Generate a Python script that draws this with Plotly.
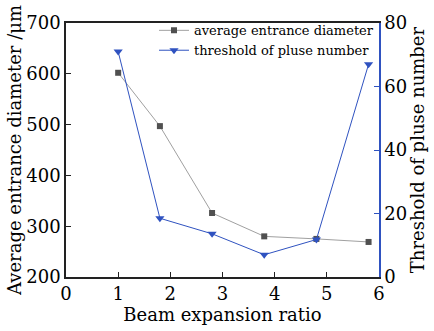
import plotly.graph_objects as go

x_vals = [1.0, 1.8, 2.8, 3.8, 4.8, 5.8]
diameter = [602, 497, 326, 280, 275, 269]
threshold = [71, 18.5, 13.6, 7, 11.8, 67]

FONT = "DejaVu Serif"
BLUE = "#2f52c0"
GRAY_LINE = "#a0a0a0"
GRAY_MARK = "#505050"

fig = go.Figure()
fig.add_trace(go.Scatter(
    x=x_vals, y=diameter, name="average entrance diameter",
    mode="lines+markers",
    line=dict(color=GRAY_LINE, width=1),
    marker=dict(symbol="square", size=6, color=GRAY_MARK),
    yaxis="y"))
fig.add_trace(go.Scatter(
    x=x_vals, y=threshold, name="threshold of pluse number",
    mode="lines+markers",
    line=dict(color=BLUE, width=1),
    marker=dict(symbol="triangle-down", size=8, color=BLUE),
    yaxis="y2"))

fig.update_layout(
    width=434, height=331,
    margin=dict(l=66, r=46, t=21, b=50),
    paper_bgcolor="white", plot_bgcolor="white",
    font=dict(family=FONT, size=18, color="black"),
    showlegend=True,
    legend=dict(x=1.0, y=1.03, xanchor="right", yanchor="top",
                bgcolor="rgba(0,0,0,0)", font=dict(family=FONT, size=13),
                tracegroupgap=0, itemwidth=30),
    xaxis=dict(range=[0, 6], dtick=1, tick0=0, showgrid=False, zeroline=False,
               showline=True, linecolor="#222", linewidth=1.5, mirror=True,
               ticks="inside", ticklen=5, tickcolor="#222",
               title=dict(text="Beam expansion ratio", standoff=2,
                          font=dict(size=18))),
    yaxis=dict(range=[200, 700], dtick=100, showgrid=False, zeroline=False,
               showline=True, linecolor="#222", linewidth=1.5,
               ticks="inside", ticklen=5, tickcolor="#222",
               title=dict(text="Average entrance diameter /μm", standoff=0,
                          font=dict(size=18))),
    yaxis2=dict(range=[0, 80], dtick=20, overlaying="y", side="right",
                showgrid=False, zeroline=False,
                showline=True, linecolor=BLUE, linewidth=1.5,
                ticks="inside", ticklen=5, tickcolor=BLUE,
                title=dict(text="Threshold of pluse number", standoff=2,
                           font=dict(size=18))),
)

fig.write_html("out.html")
